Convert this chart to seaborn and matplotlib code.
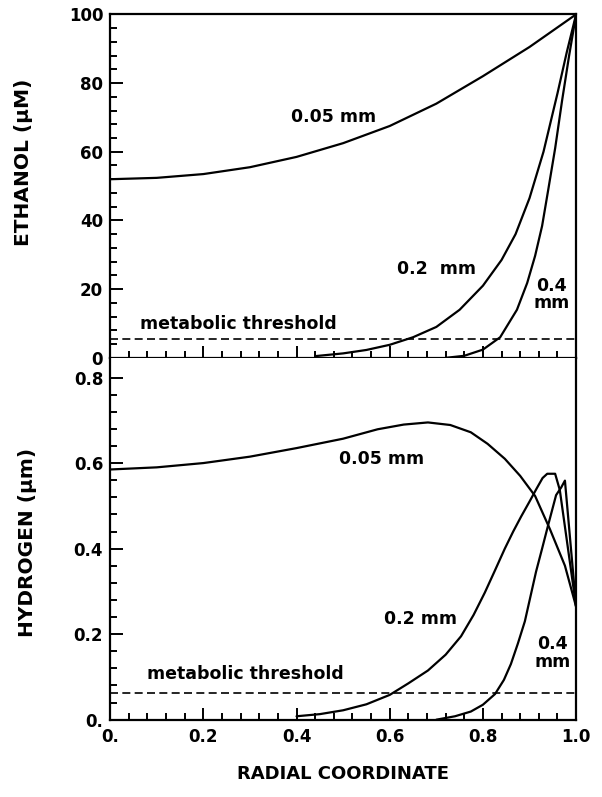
import numpy as np
import matplotlib
matplotlib.use("Agg")
import matplotlib.pyplot as plt
import seaborn as sns

# --- dades llegides de la figura ---
# Etanol (uM) vs coordenada radial
eth_005_x = [0, 0.1, 0.2, 0.3, 0.4, 0.5, 0.6, 0.7, 0.8, 0.9, 1.0]
eth_005_y = [52, 52.4, 53.5, 55.5, 58.5, 62.5, 67.5, 74, 82, 90.5, 100]
eth_02_x = [0.44, 0.5, 0.55, 0.6, 0.65, 0.7, 0.75, 0.8, 0.84, 0.87, 0.9, 0.93, 0.96, 0.98, 1.0]
eth_02_y = [0.5, 1.3, 2.3, 3.8, 6.0, 9.0, 14, 21, 28.5, 36, 46.5, 60, 77, 89, 100]
eth_04_x = [0.72, 0.76, 0.8, 0.837, 0.873, 0.895, 0.912, 0.927, 0.94, 0.955, 0.97, 0.985, 1.0]
eth_04_y = [0, 0.6, 2.4, 6.0, 14, 21.8, 29.7, 38.4, 48.8, 61, 75, 88, 100]
eth_thr_x = [0, 1.0]
eth_thr_y = [5.5, 5.5]

# Hidrogen vs coordenada radial
hyd_005_x = [0, 0.1, 0.2, 0.3, 0.4, 0.5, 0.574, 0.63, 0.682, 0.73, 0.774, 0.81, 0.847,
             0.88, 0.912, 0.944, 0.976, 1.0]
hyd_005_y = [0.585, 0.59, 0.60, 0.615, 0.635, 0.657, 0.679, 0.69, 0.695, 0.689, 0.672,
             0.645, 0.61, 0.57, 0.523, 0.445, 0.36, 0.264]
hyd_02_x = [0.40, 0.45, 0.5, 0.55, 0.6, 0.64, 0.682, 0.72, 0.753, 0.78, 0.804, 0.825,
            0.847, 0.865, 0.882, 0.9, 0.915, 0.928, 0.938, 0.955, 0.965, 1.0]
hyd_02_y = [0.008, 0.013, 0.022, 0.036, 0.058, 0.085, 0.115, 0.152, 0.195, 0.245, 0.297,
            0.347, 0.40, 0.44, 0.475, 0.51, 0.54, 0.565, 0.575, 0.575, 0.537, 0.264]
hyd_04_x = [0.70, 0.74, 0.774, 0.80, 0.826, 0.845, 0.86, 0.875, 0.89, 0.902, 0.914,
            0.927, 0.94, 0.957, 0.968, 0.976, 1.0]
hyd_04_y = [0, 0.008, 0.019, 0.035, 0.06, 0.093, 0.13, 0.178, 0.23, 0.288, 0.346,
            0.40, 0.455, 0.525, 0.543, 0.559, 0.264]
hyd_thr_x = [0, 1.0]
hyd_thr_y = [0.062, 0.062]

x_ticks = [0, 0.2, 0.4, 0.6, 0.8, 1.0]
x_labels = ["0.", "0.2", "0.4", "0.6", "0.8", "1.0"]
eth_ticks = [0, 20, 40, 60, 80, 100]
eth_labels = ["0", "20", "40", "60", "80", "100"]
hyd_ticks = [0, 0.2, 0.4, 0.6, 0.8]
hyd_labels = ["0.", "0.2", "0.4", "0.6", "0.8"]


def corba(ax, x, y, discontinua=False):
    '''Dibuixa una corba negra; discontinua per al llindar metabolic.'''
    sns.lineplot(x=x, y=y, ax=ax, color="black", estimator=None, sort=False,
                 lw=1.2 if discontinua else 1.6)
    if discontinua:
        ax.lines[-1].set_dashes([4.8, 2.6])


def format_eixos(ax):
    ax.tick_params(which="both", direction="in", right=False, top=False,
                   labelsize=12, width=1.4, color="black", labelcolor="black")
    ax.tick_params(axis="y", pad=5)
    ax.tick_params(axis="x", pad=6)
    ax.tick_params(which="major", length=9)
    ax.tick_params(which="minor", length=5)
    for s in ax.spines.values():
        s.set_linewidth(1.6)
        s.set_color("black")
        s.set_visible(True)
    ax.set_xlim(0, 1.0)
    ax.set_xticks(np.arange(0, 1.0001, 0.04), minor=True)
    for t in ax.get_xticklabels() + ax.get_yticklabels():
        t.set_fontweight("bold")


sns.set_style("ticks")
plt.rcParams["font.family"] = ["DejaVu Sans"]
plt.rcParams["font.weight"] = "bold"
plt.rcParams["text.color"] = "black"
plt.rcParams["axes.labelcolor"] = "black"

fig = plt.figure(figsize=(6.02, 7.97), dpi=100)
ax1 = fig.add_axes([0.183, 0.551, 0.774, 0.431])
ax2 = fig.add_axes([0.183, 0.097, 0.774, 0.454])

# panell superior: etanol
corba(ax1, eth_005_x, eth_005_y)
corba(ax1, eth_02_x, eth_02_y)
corba(ax1, eth_04_x, eth_04_y)
corba(ax1, eth_thr_x, eth_thr_y, discontinua=True)
ax1.set_ylim(0, 100)
ax1.set_yticks(eth_ticks)
ax1.set_yticklabels(eth_labels)
ax1.set_yticks(np.arange(0, 100.1, 4), minor=True)
ax1.set_xticks(x_ticks)
ax1.set_xticklabels([])
format_eixos(ax1)
ax1.set_xlabel("")
ax1.set_ylabel("ETHANOL (μM)", fontsize=14.5, fontweight="bold", color="black")
ax1.yaxis.set_label_coords(-0.165, 0.57)

ax1.text(0.479, 70, "0.05 mm", fontsize=12.5, fontweight="bold", ha="center", va="center")
ax1.text(0.70, 26, "0.2  mm", fontsize=12.5, fontweight="bold", ha="center", va="center")
ax1.text(0.948, 18.5, "0.4\nmm", fontsize=12.5, fontweight="bold", ha="center", va="center",
         linespacing=0.95)
ax1.text(0.065, 10, "metabolic threshold", fontsize=12.5, fontweight="bold",
         ha="left", va="center")

# panell inferior: hidrogen
corba(ax2, hyd_005_x, hyd_005_y)
corba(ax2, hyd_02_x, hyd_02_y)
corba(ax2, hyd_04_x, hyd_04_y)
corba(ax2, hyd_thr_x, hyd_thr_y, discontinua=True)
ax2.set_ylim(0, 0.846)
ax2.set_yticks(hyd_ticks)
ax2.set_yticklabels(hyd_labels)
ax2.set_yticks(np.arange(0, 0.801, 0.04), minor=True)
ax2.set_xticks(x_ticks)
ax2.set_xticklabels(x_labels)
format_eixos(ax2)
ax2.spines["top"].set_visible(False)
ax2.set_ylabel("HYDROGEN (μm)", fontsize=14.5, fontweight="bold", color="black")
ax2.yaxis.set_label_coords(-0.157, 0.49)
ax2.set_xlabel("RADIAL COORDINATE", fontsize=13, fontweight="bold", color="black")
ax2.xaxis.set_label_coords(0.5, -0.124)

ax2.text(0.583, 0.61, "0.05 mm", fontsize=12.5, fontweight="bold", ha="center", va="center")
ax2.text(0.665, 0.236, "0.2 mm", fontsize=12.5, fontweight="bold", ha="center", va="center")
ax2.text(0.95, 0.156, "0.4\nmm", fontsize=12.5, fontweight="bold", ha="center", va="center",
         linespacing=0.95)
ax2.text(0.08, 0.107, "metabolic threshold", fontsize=12.5, fontweight="bold",
         ha="left", va="center")

fig.savefig("out.png", dpi=100)
